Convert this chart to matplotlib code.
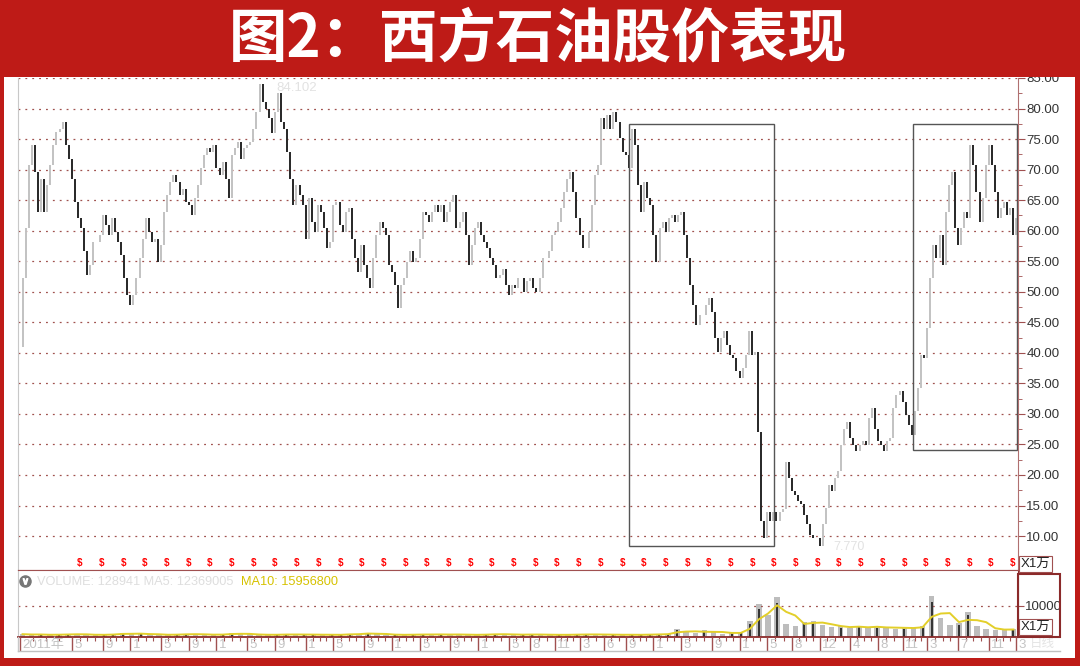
import numpy as np
import pandas as pd
import matplotlib
matplotlib.use('Agg')
import matplotlib.pyplot as plt
from matplotlib.patches import Rectangle
from matplotlib.lines import Line2D
from matplotlib.ticker import FormatStrFormatter

plt.rcParams['font.family'] = ['Liberation Sans', 'Noto Sans CJK SC', 'DejaVu Sans']

# 收盘价 (读图估计, 按K线顺序)
close = [
    41.0, 52.2, 60.4, 70.7, 74.0, 69.6, 63.0, 68.5, 63.0, 67.5,
    70.7, 74.0, 76.2, 76.7, 77.8, 74.0, 71.8, 68.5, 64.7, 62.0,
    60.4, 56.6, 52.8, 54.4, 58.2, 58.2, 59.3, 62.6, 60.9, 59.3,
    62.0, 59.8, 58.2, 56.0, 52.2, 49.5, 47.8, 49.5, 52.2, 55.5,
    58.7, 62.0, 59.8, 58.2, 58.7, 54.9, 57.7, 63.1, 65.8, 68.0,
    69.1, 68.0, 65.8, 66.9, 64.7, 64.2, 62.6, 65.3, 67.5, 70.2,
    72.4, 73.5, 72.9, 74.0, 70.2, 69.1, 71.3, 68.5, 65.3, 72.4,
    73.5, 74.6, 71.8, 73.5, 74.0, 74.6, 76.7, 79.5, 84.0, 81.1,
    80.0, 78.4, 76.0,
    79.5, 82.6, 77.8, 76.7, 72.9, 68.5, 64.2, 67.5, 65.8, 64.2,
    58.7, 65.3, 61.5, 59.8, 64.2, 63.1, 60.4, 57.1, 58.2, 64.2,
    64.7, 60.9, 59.8, 63.1, 63.7, 58.7, 55.5, 53.3, 57.7, 54.4,
    52.2, 50.6, 55.5, 59.3, 61.5, 60.4, 59.3, 54.4, 53.3, 51.1,
    47.3, 51.1, 52.2, 54.9, 56.6, 54.9, 55.5, 58.7, 63.1, 62.6,
    61.5, 63.1, 64.2, 63.1, 64.2, 61.5, 63.1, 64.7, 65.8, 60.4,
    61.5, 63.1, 59.3, 54.4, 57.7, 60.4, 61.5, 59.3, 58.2, 57.1,
    55.5, 54.4, 52.2, 52.8, 53.8, 51.1, 49.5, 51.1, 50.6, 52.2,
    52.2, 50.0, 51.7, 52.2, 50.6, 50.0, 52.2, 55.5, 55.5, 56.6,
    59.3, 59.8, 61.5, 63.7, 66.4, 68.5, 69.6, 66.4, 62.0, 59.3,
    57.1, 57.1, 59.8, 64.2, 69.1, 70.7, 78.4, 76.7, 78.9, 76.7,
    79.5, 77.8, 75.1, 72.9, 72.4, 70.2, 76.7, 74.0, 67.5, 63.1,
    68.0, 65.3, 64.2, 59.3, 54.9, 60.4, 61.5, 59.8, 62.0, 62.6,
    61.5, 62.6, 63.1, 59.3, 55.5, 51.1, 47.8, 44.6, 46.2, 46.2,
    47.8, 48.9, 46.7, 42.4, 40.2, 42.4, 43.5, 41.3, 39.7, 39.1,
    37.0, 35.9, 37.5, 39.7, 43.5, 39.7, 40.2, 27.0, 12.4, 9.7,
    14.0, 12.4, 14.0,
    12.4, 14.0, 14.5, 22.2, 19.5, 17.3, 16.8, 15.7, 15.2, 13.5,
    11.9, 10.2, 9.7, 9.7, 8.4, 11.9, 14.6, 18.4, 17.3, 19.5,
    20.6, 24.9, 27.6, 28.7, 26.0, 24.9, 23.9, 24.9, 25.5, 24.9,
    29.3, 31.0, 27.6, 25.5, 24.9, 23.9, 25.5, 26.0, 31.0, 33.1,
    33.7, 32.0, 29.8, 28.2, 26.6, 30.4, 34.2, 39.7, 39.1, 44.0,
    52.2, 57.7, 55.5, 59.3, 54.4, 63.1, 67.5, 69.6, 60.4, 57.7,
    60.4, 63.1, 62.0, 74.0, 70.7, 66.4, 61.5, 65.3, 70.7, 74.0,
    70.7, 66.4, 62.0, 63.7, 64.7, 62.6, 63.7, 59.3, 62.0,
]

# 成交量 (万股, 读图估计)
volume = [
    900, 700, 800, 650, 750, 1000, 850, 700, 600, 800,
    950, 1200, 900, 1100, 800, 700, 650, 900, 1000, 800,
    750, 700, 850, 1300, 900, 800, 700, 650, 800, 900,
    700, 750, 850, 600, 700, 800, 1000, 900, 1400, 800,
    700, 750, 650, 800, 900, 700, 850, 800, 750, 700,
    650, 900, 1000, 750, 700, 800, 850, 700, 650, 750,
    700, 800, 900, 750, 700, 800, 650, 700, 750, 800,
    900, 1000,
    2600, 1600, 1200, 2200, 1500, 1100, 1300, 1500, 5000, 10500,
    7000, 12900, 4200, 3500, 4800, 5200, 3800, 3200, 3500, 2800,
    3600, 2900, 3300, 3000, 2700, 3100, 2800, 3400, 13100, 6000,
    3800, 4500, 8100, 3500, 2600, 2300, 2200, 2700,
]

# 日期刻度 (K线序号, 标签)
tick_idx = [0, 17, 27, 36, 46, 55, 64, 74, 83, 93, 102, 112, 121, 130, 140,
            149, 159, 166, 174, 182, 190, 197, 206, 215, 225, 234, 243, 251,
            260, 270, 279, 287, 295, 305, 315, 324]
tick_lbl = ['2011年', '5', '9', '1', '5', '9', '1', '5', '9', '1', '5', '9',
            '1', '5', '9', '1', '5', '8', '11', '3', '6', '9', '1', '5', '9',
            '1', '5', '8', '12', '4', '8', '11', '3', '7', '11', '3']

# 标注框: (起始K线, 结束K线, 下沿价, 上沿价)
boxes = [(198.1, 245.2, 8.3, 77.5), (290.4, 324.2, 24.1, 77.5)]

RED = '#BE1B17'
AX = '#a05050'
W, H = 1080, 666


def px(l, t, r, b):
    return [l / W, 1 - b / H, (r - l) / W, (b - t) / H]


fig = plt.figure(figsize=(10.8, 6.66), dpi=100, facecolor=RED)
fig.patches.append(Rectangle((4 / W, 1 - 658 / H), 1071 / W, 581 / H, transform=fig.transFigure,
                             facecolor='white', edgecolor='none', zorder=-10))

N = len(close)
x = np.arange(N)
c = np.array(close)
prev = np.r_[c[0], c[:-1]]
up = c >= prev

# ---- 价格 ----
ax = fig.add_axes(px(18, 78, 1018, 570))
ax.vlines(x[up], prev[up], c[up], color='#c2c2c2', lw=1.4)
ax.vlines(x[~up], prev[~up], c[~up], color='#262626', lw=1.4)
ax.set_xlim(-0.5, N - 0.5)
ax.set_ylim(4.44, 84.9)
ax.set_yticks(np.arange(10, 90, 5))
ax.set_yticks(np.arange(12.5, 85, 5), minor=True)
ax.yaxis.set_major_formatter(FormatStrFormatter('%.2f'))
ax.yaxis.tick_right()
ax.tick_params(axis='y', which='major', color=AX, labelcolor='#333333', length=5, labelsize=9.5, pad=1)
ax.tick_params(axis='y', which='minor', color=AX, length=3)
ax.set_xticks([])
ax.grid(axis='y', ls=(0, (1.5, 4)), color='#a0524f', lw=0.9)
ax.spines['top'].set_visible(False)
ax.spines['left'].set_color('#c8c8c8')
ax.spines['right'].set_color('#b07070')
ax.spines['bottom'].set_color(AX)

for x0, x1, lo, hi in boxes:
    ax.add_patch(Rectangle((x0, lo), x1 - x0, hi - lo, fill=False, ec='#555555', lw=1.0, zorder=3))

for d in np.arange(19.6, N, 7.05):
    ax.text(d, 5.6, '$', color='red', fontsize=7, fontweight='bold', ha='center', va='center')

imax, imin = int(np.argmax(c)), int(np.argmin(c))
ax.annotate('84.102', xy=(imax, c[imax]), xytext=(12, -3), textcoords='offset points',
            color='#e2e2e2', fontsize=9.5, va='center')
ax.annotate('7.770', xy=(imin, c[imin]), xytext=(10, -1), textcoords='offset points',
            color='#e2e2e2', fontsize=9, va='center')

fig.text(1021 / W, 1 - 564 / H, 'X1万', fontsize=9.5, va='center', color='#222222',
         bbox=dict(fc='white', ec=AX, lw=0.8, pad=1.2))

# ---- 成交量 ----
ax2 = fig.add_axes(px(18, 570, 1018, 637))
v = np.array(volume)
vx = np.arange(len(v))
ax2.bar(vx, v, width=0.6, color='#bdbdbd')
dark = np.r_[False, v[1:] > v[:-1]]
ax2.vlines(vx[dark], 0, v[dark] * 0.85, color='#1a1a1a', lw=1.2)
ma = pd.Series(v).rolling(3, min_periods=1).mean()
ax2.plot(vx, ma, color='#e3cf2a', lw=1.4)
ax2.set_xlim(-0.5, len(v) - 0.5)
ax2.set_ylim(0, 21400)
ax2.set_yticks([10000])
ax2.yaxis.tick_right()
ax2.tick_params(axis='y', color=AX, labelcolor='#333333', length=4, labelsize=9.5, pad=1)
ax2.set_xticks([])
ax2.grid(axis='y', ls=(0, (1.5, 4)), color='#a0524f', lw=0.9)
ax2.spines['top'].set_color(AX)
ax2.spines['bottom'].set_color('#8b2a2a')
ax2.spines['bottom'].set_linewidth(1.3)
ax2.spines['left'].set_color('#c8c8c8')
ax2.spines['right'].set_color('#8b2a2a')
ax2.plot(0.007, 0.83, 'o', transform=ax2.transAxes, ms=8, color='#777777', clip_on=False)
ax2.plot(0.007, 0.83, marker=r'$\vee$', transform=ax2.transAxes, ms=4, color='white', clip_on=False)
fig.text(37 / W, 1 - 582 / H, 'VOLUME: 128941 MA5: 12369005', fontsize=9.2, color='#dedede', va='center')
fig.text(241 / W, 1 - 582 / H, 'MA10: 15956800', fontsize=9.2, color='#d6c200', va='center')
fig.patches.append(Rectangle((1018 / W, 1 - 637 / H), 42 / W, 63 / H, transform=fig.transFigure,
                             fill=False, ec='#8b2a2a', lw=1.5, zorder=4))
fig.text(1021 / W, 1 - 627 / H, 'X1万', fontsize=9.5, va='center', color='#222222',
         bbox=dict(fc='white', ec=AX, lw=0.8, pad=1.2))

# ---- 日期轴 ----
ax3 = fig.add_axes(px(18, 637, 1018, 651))
ax3.set_xlim(-0.5, N - 0.5)
ax3.set_ylim(0, 1)
ax3.axis('off')
ax3.vlines(tick_idx, 0, 1, color=AX, lw=1.0)
months = [1] + [int(t) for t in tick_lbl[1:]]
for i in range(len(tick_idx) - 1):
    gap = (months[i + 1] - months[i]) % 12
    for k in range(1, gap):
        ax3.vlines(tick_idx[i] + (tick_idx[i + 1] - tick_idx[i]) * k / gap, 0.7, 1, color=AX, lw=0.8)
for i, lbl in zip(tick_idx, tick_lbl):
    ax3.text(i + 0.8, 0.45, lbl, color='#c4c4c4', fontsize=9.5, va='center', ha='left')
fig.add_artist(Line2D([18 / W, 18 / W], [1 - 651 / H, 1 - 637 / H], color='#c8c8c8', lw=1))
fig.add_artist(Line2D([18 / W, 1060 / W], [1 - 651 / H, 1 - 651 / H], color='#c0c0c0', lw=1))
fig.text(1030 / W, 1 - 644 / H, '日线', fontsize=9, color='#e4e4e4', va='center')

# ---- 标题 ----
fig.patches.append(Rectangle((0, 1 - 77 / H), 1, 77 / H, transform=fig.transFigure,
                             facecolor=RED, edgecolor='none', zorder=5))
fig.text(0.498, 1 - 39 / H, '图2：西方石油股价表现', color='white', fontsize=42, fontweight='bold',
         family=['Noto Sans CJK SC'], ha='center', va='center', zorder=6)

fig.savefig('out.png', dpi=100, facecolor=RED)
